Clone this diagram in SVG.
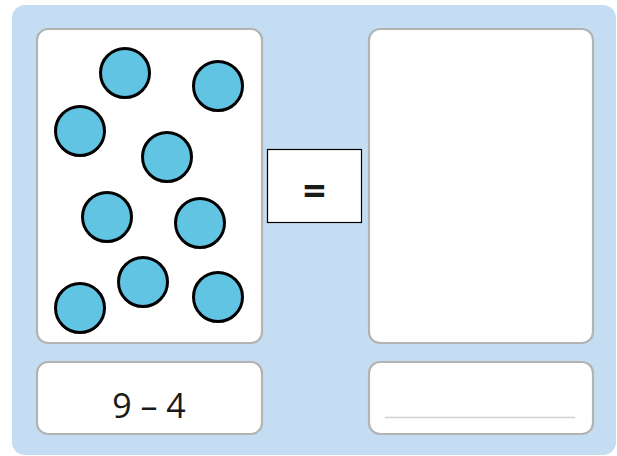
<svg xmlns="http://www.w3.org/2000/svg" width="617" height="456" viewBox="0 0 617 456">
<style>
.card{fill:#ffffff;stroke:#b3b3b3;stroke-width:2.2}
.dot{fill:#62c4e3;stroke:#000000;stroke-width:3}
.txt{font-family:"Open Sans","Liberation Sans",sans-serif;fill:#1a1a1a;text-anchor:middle}
</style>
<rect x="0" y="0" width="617" height="456" fill="#ffffff"/>
<rect x="12" y="5" width="604" height="450" rx="13" fill="#c5ddf2"/>
<g id="left-card">
<rect class="card" x="37" y="29" width="225" height="314" rx="11"/>
<circle class="dot" cx="125" cy="73" r="24.5"/>
<circle class="dot" cx="218" cy="86" r="24.5"/>
<circle class="dot" cx="80" cy="131" r="24.5"/>
<circle class="dot" cx="167" cy="157" r="24.5"/>
<circle class="dot" cx="107" cy="217" r="24.5"/>
<circle class="dot" cx="200" cy="223" r="24.5"/>
<circle class="dot" cx="143" cy="282" r="24.5"/>
<circle class="dot" cx="80" cy="308" r="24.5"/>
<circle class="dot" cx="218" cy="297" r="24.5"/>
</g>
<g id="left-label">
<rect class="card" x="37" y="362" width="225" height="72" rx="11"/>
<text class="txt" x="149" y="418" font-size="34">9 – 4</text>
</g>
<g id="equals">
<rect x="267.5" y="149.5" width="94" height="73" fill="#ffffff" stroke="#000000" stroke-width="1.2"/>
<text class="txt" x="314.5" y="205" font-size="40" font-weight="bold">=</text>
</g>
<g id="right-card">
<rect class="card" x="369" y="29" width="224" height="314" rx="11"/>
</g>
<g id="right-label">
<rect class="card" x="369" y="362" width="224" height="72" rx="11"/>
<line x1="385" y1="417.5" x2="575" y2="417.5" stroke="#d0d0d0" stroke-width="1.5"/>
</g>
<g id="connectors"></g>
</svg>
